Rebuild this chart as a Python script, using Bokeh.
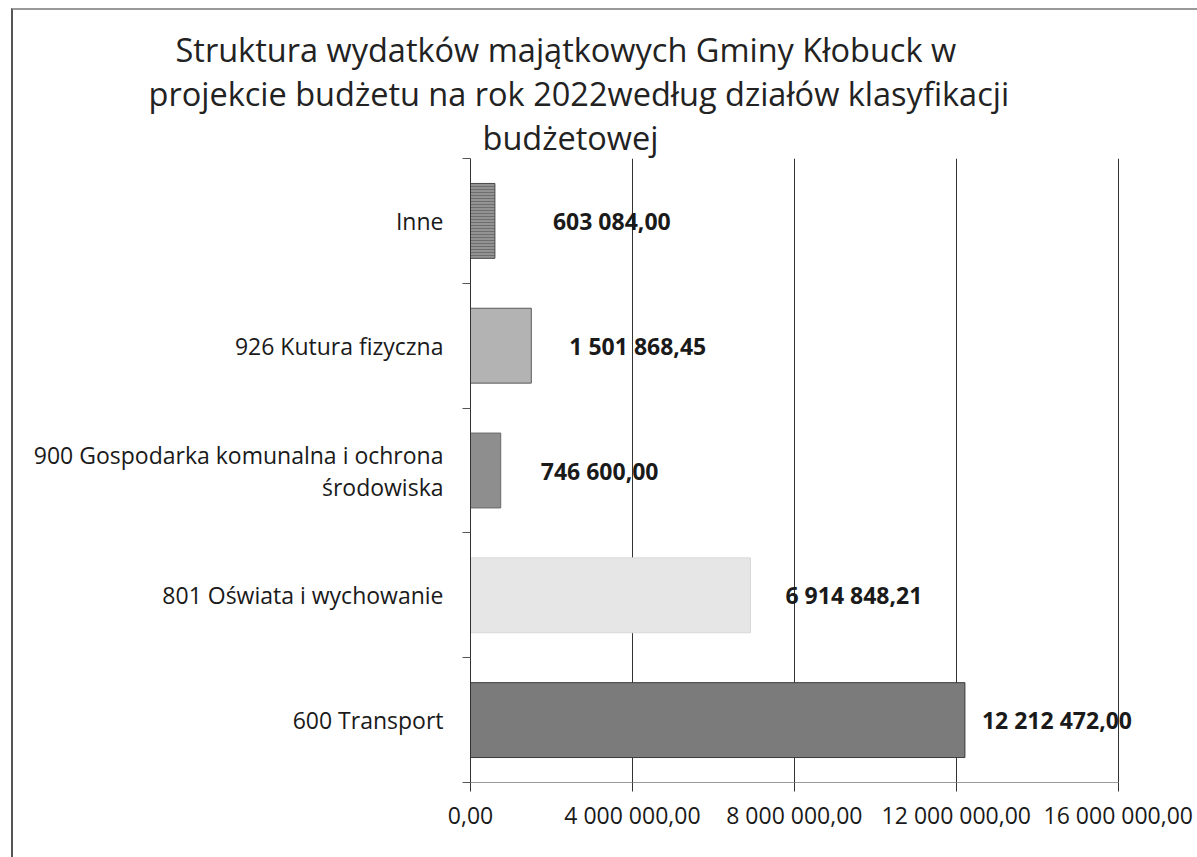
from bokeh.plotting import figure
from bokeh.models import ColumnDataSource, FixedTicker, Range1d, Title
from bokeh.core.properties import value
from bokeh.embed import file_html
from bokeh.resources import INLINE

# ---- data ----
categories = [
    "600 Transport",
    "801 Oświata i wychowanie",
    "900 Gospodarka komunalna i ochrona\nśrodowiska",
    "926 Kutura fizyczna",
    "Inne",
]
values = [12212472.00, 6914848.21, 746600.00, 1501868.45, 603084.00]
x_ticks = [0, 4000000, 8000000, 12000000, 16000000]
title_lines = [
    "Struktura wydatków majątkowych  Gminy Kłobuck  w",
    "projekcie budżetu na rok 2022według działów klasyfikacji",
    "budżetowej",
]

# ---- styles ----
fill_colors = ["#7b7b7b", "#e6e6e6", "#8e8e8e", "#b3b3b3", "#939393"]
line_colors = ["#3a3a3a", "#d8d8d8", "#6a6a6a", "#5a5a5a", "#4a4a4a"]
hatches = [" ", " ", " ", " ", "-"]
label_dx = [17, 35, 40, 38, 58]       # pixel offsets of value labels
title_dx = [-295, -322, 12]           # title line starts relative to plot frame
FONT = "Open Sans"


def pl_format(v):
    s = f"{v:,.2f}"
    return s.replace(",", " ").replace(".", ",")


centers = [i + 0.5 for i in range(len(categories))]

src = ColumnDataSource(dict(
    y=centers, right=values, fill=fill_colors, line=line_colors, hatch=hatches,
    lab=[pl_format(v) for v in values], dx=label_dx,
))

W, H = 1186, 849
p = figure(width=W, height=H, output_backend="svg", toolbar_location=None, title=None,
           x_range=Range1d(0, 16500000), y_range=Range1d(0, len(categories)),
           min_border_left=457, min_border_right=61, min_border_top=148,
           min_border_bottom=77)
p.styles = {"margin-left": "11px", "margin-top": "8px",
            "border-left": "2px solid #555", "border-top": "2px solid #999"}
p.background_fill_color = "white"
p.border_fill_color = "white"
p.outline_line_color = None

p.hbar(y="y", left=0, right="right", height=0.6, source=src,
       fill_color="fill", line_color="line", line_width=1,
       hatch_pattern="hatch", hatch_color="#6e6e6e", hatch_scale=3, hatch_weight=1)

p.text(x="right", y="y", text="lab", x_offset="dx", source=src,
       text_font=value("Noto Sans"), text_font_size="23px", text_font_style="bold",
       text_color="#1a1a1a", text_align="left", text_baseline="middle")

# x axis
xa = p.xaxis[0]
xa.ticker = FixedTicker(ticks=x_ticks, minor_ticks=[])
xa.bounds = (x_ticks[0], x_ticks[-1])
xa.major_label_overrides = {t: pl_format(t) for t in x_ticks}
xa.axis_line_color = "#9a9a9a"
xa.major_tick_line_color = "#333333"
xa.major_tick_out = 9
xa.major_tick_in = 0
xa.minor_tick_line_color = None
xa.major_label_text_font = FONT
xa.major_label_text_font_size = "23px"
xa.major_label_text_color = "#1a1a1a"
xa.major_label_standoff = 7

# y axis
ya = p.yaxis[0]
ya.ticker = FixedTicker(ticks=centers, minor_ticks=list(range(len(categories) + 1)))
ya.major_label_overrides = {c: lab for c, lab in zip(centers, categories)}
ya.axis_line_color = "#333333"
ya.major_tick_line_color = None
ya.major_tick_out = 0
ya.major_tick_in = 0
ya.minor_tick_line_color = "#555555"
ya.minor_tick_out = 8
ya.minor_tick_in = 0
ya.major_label_text_font = FONT
ya.major_label_text_font_size = "23px"
ya.major_label_text_color = "#1a1a1a"
ya.major_label_text_line_height = 1.0
ya.major_label_standoff = 19

p.xgrid.ticker = FixedTicker(ticks=x_ticks)
p.xgrid.grid_line_color = "#333333"
p.ygrid.grid_line_color = None

# title lines: added from the one nearest the plot outward
for line, dx in reversed(list(zip(title_lines, title_dx))):
    p.add_layout(Title(text=line, align="left", offset=dx, standoff=-3,
                       text_font=FONT, text_font_size="32.5px", text_font_style="normal",
                       text_color="#222222"), "above")

open("out.html", "w").write(file_html(p, INLINE))
